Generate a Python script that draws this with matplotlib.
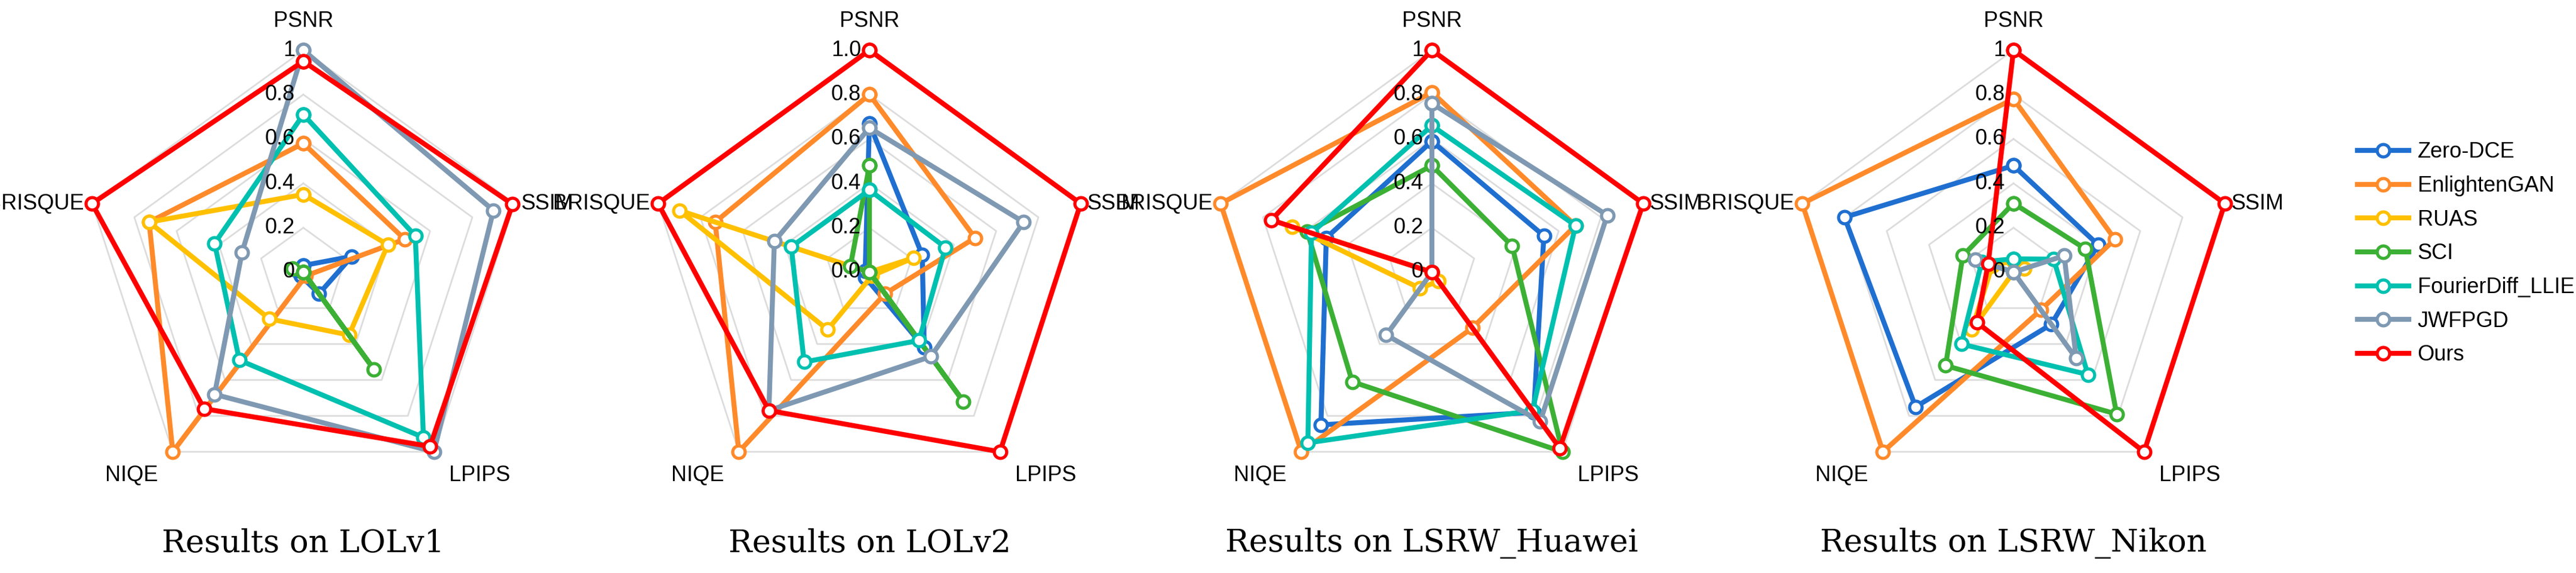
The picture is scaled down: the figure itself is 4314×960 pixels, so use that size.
import numpy as np
import matplotlib
matplotlib.use("Agg")
import matplotlib.pyplot as plt
from matplotlib.lines import Line2D

metrics = ["PSNR", "SSIM", "LPIPS", "NIQE", "BRISQUE"]
methods = ["Zero-DCE", "EnlightenGAN", "RUAS", "SCI", "FourierDiff_LLIE", "JWFPGD", "Ours"]
titles = ["Results on LOLv1", "Results on LOLv2", "Results on LSRW_Huawei", "Results on LSRW_Nikon"]
tick_labels_a = ["0", "0.2", "0.4", "0.6", "0.8", "1"]
tick_labels_b = ["0.0", "0.2", "0.4", "0.6", "0.8", "1.0"]

# values per method: [PSNR, SSIM, LPIPS, NIQE, BRISQUE]
lolv1 = {
    "Zero-DCE":         [0.03, 0.23, 0.12, 0.02, 0.03],
    "EnlightenGAN":     [0.58, 0.48, 0.02, 1.00, 0.73],
    "RUAS":             [0.35, 0.40, 0.35, 0.26, 0.73],
    "SCI":              [0.00, 0.00, 0.54, 0.00, 0.05],
    "FourierDiff_LLIE": [0.71, 0.53, 0.92, 0.49, 0.42],
    "JWFPGD":           [1.00, 0.90, 1.00, 0.68, 0.29],
    "Ours":             [0.95, 0.99, 0.97, 0.76, 1.00],
}
lolv2 = {
    "Zero-DCE":         [0.67, 0.25, 0.42, 0.03, 0.02],
    "EnlightenGAN":     [0.80, 0.50, 0.12, 1.00, 0.73],
    "RUAS":             [0.00, 0.21, 0.02, 0.32, 0.90],
    "SCI":              [0.48, 0.00, 0.72, 0.00, 0.09],
    "FourierDiff_LLIE": [0.37, 0.36, 0.38, 0.50, 0.37],
    "JWFPGD":           [0.65, 0.73, 0.47, 0.77, 0.45],
    "Ours":             [1.00, 1.00, 1.00, 0.77, 1.00],
}
huawei = {
    "Zero-DCE":         [0.59, 0.53, 0.78, 0.85, 0.50],
    "EnlightenGAN":     [0.81, 0.68, 0.31, 1.00, 1.00],
    "RUAS":             [0.00, 0.00, 0.05, 0.09, 0.66],
    "SCI":              [0.48, 0.38, 1.00, 0.61, 0.59],
    "FourierDiff_LLIE": [0.66, 0.68, 0.77, 0.95, 0.57],
    "JWFPGD":           [0.76, 0.83, 0.83, 0.35, 0.00],
    "Ours":             [1.00, 1.00, 0.98, 0.00, 0.76],
}
nikon = {
    "Zero-DCE":         [0.48, 0.40, 0.29, 0.75, 0.80],
    "EnlightenGAN":     [0.78, 0.48, 0.21, 1.00, 1.00],
    "RUAS":             [0.05, 0.05, 0.00, 0.32, 0.10],
    "SCI":              [0.31, 0.34, 0.79, 0.52, 0.24],
    "FourierDiff_LLIE": [0.06, 0.19, 0.57, 0.40, 0.15],
    "JWFPGD":           [0.00, 0.24, 0.48, 0.00, 0.18],
    "Ours":             [1.00, 1.00, 1.00, 0.28, 0.12],
}
datasets = [lolv1, lolv2, huawei, nikon]

colors = {
    "Zero-DCE": "#1f6fd0",
    "EnlightenGAN": "#ff8a2a",
    "RUAS": "#ffc000",
    "SCI": "#3cb035",
    "FourierDiff_LLIE": "#00c0b0",
    "JWFPGD": "#7f99b2",
    "Ours": "#ff0000",
}

W, H = 4314, 960
fig = plt.figure(figsize=(W / 100, H / 100), dpi=100)
centers_x = [508, 1456, 2398, 3372]
cy = 456
R = 372

angles = np.deg2rad(np.arange(5) * 72.0)
ang_closed = np.concatenate([angles, angles[:1]])
label_font = "Liberation Sans"
fs = 26

for k, (data, title) in enumerate(zip(datasets, titles)):
    cx = centers_x[k]
    ax = fig.add_axes([(cx - R) / W, (H - cy - R) / H, 2 * R / W, 2 * R / H], projection="polar")
    ax.set_theta_zero_location("N")
    ax.set_theta_direction(-1)
    ax.set_ylim(0, 1)
    ax.axis("off")
    ax.patch.set_alpha(0)
    for r in np.linspace(0.2, 1.0, 5):
        ax.plot(ang_closed, [r] * 6, color="#dcdcdc", lw=2, zorder=0, clip_on=False)
    for m in methods:
        v = data[m]
        ax.plot(ang_closed, v + v[:1], color=colors[m], lw=6, marker="o", ms=15,
                mfc="white", mec=colors[m], mew=3.8, clip_on=False,
                zorder=10 if m == "Ours" else 3, solid_joinstyle="round")
    tl = tick_labels_b if k == 1 else tick_labels_a
    for r, t in zip(np.linspace(0, 1, 6), tl):
        ax.annotate(t, xy=(0, r), xytext=(-10, 0), textcoords="offset points",
                    ha="right", va="center", fontsize=fs, family=label_font, zorder=20)
    ax.annotate("PSNR", xy=(0, 1.0), xytext=(0, 22), textcoords="offset points",
                ha="center", va="bottom", fontsize=fs, family=label_font)
    ax.annotate("SSIM", xy=(angles[1], 1.0), xytext=(8, 0), textcoords="offset points",
                ha="left", va="center", fontsize=fs, family=label_font)
    ax.annotate("BRISQUE", xy=(angles[4], 1.0), xytext=(-10, 0), textcoords="offset points",
                ha="right", va="center", fontsize=fs, family=label_font)
    ax.annotate("LPIPS", xy=(angles[2], 1.0), xytext=(18, -16), textcoords="offset points",
                ha="left", va="top", fontsize=fs, family=label_font)
    ax.annotate("NIQE", xy=(angles[3], 1.0), xytext=(-18, -16), textcoords="offset points",
                ha="right", va="top", fontsize=fs, family=label_font)
    fig.text(cx / W, 1 - 910 / H, title, ha="center", va="center", fontsize=38,
             family="DejaVu Serif")

handles = [Line2D([0], [0], color=colors[m], lw=6, marker="o", ms=15, mfc="white",
                  mec=colors[m], mew=3.8) for m in methods]
fig.legend(handles, methods, loc="upper left", bbox_to_anchor=(3915 / W, 1 - 205 / H),
           frameon=False, handlelength=2.4, labelspacing=0.6, handletextpad=0.4,
           prop={"family": label_font, "size": 26})
fig.savefig("out.png", dpi=100)
